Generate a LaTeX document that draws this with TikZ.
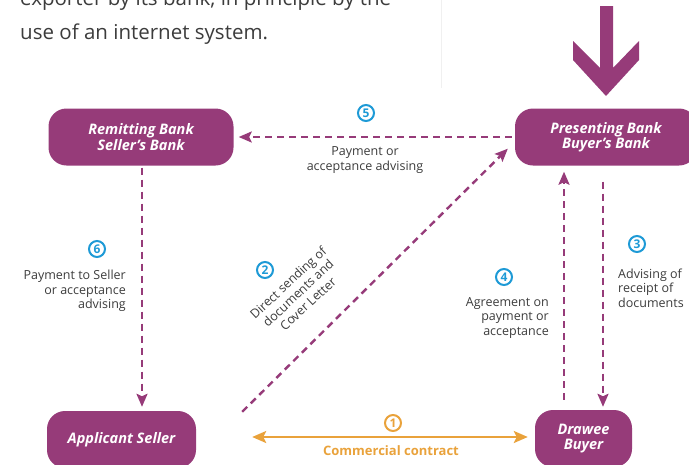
\documentclass[tikz,border=0pt]{standalone}
\usepackage{fontspec}
\setmainfont{Open Sans}
\usetikzlibrary{arrows.meta}
\definecolor{plum}{HTML}{963B79}
\definecolor{numblue}{HTML}{1E9AD6}
\definecolor{amber}{HTML}{E9A23B}
\definecolor{ink}{HTML}{3C3C3C}
\definecolor{rule}{HTML}{F0F0F0}
\begin{document}
\begin{tikzpicture}[x=1pt,y=-1pt,
  party/.style={fill=plum, rounded corners=18pt, text=white,
    font=\fontsize{14.5}{15.5}\selectfont\bfseries\itshape, align=center,
    inner sep=0pt, minimum height=57pt},
  flow/.style={draw=plum, line width=2.4pt, dash pattern=on 7pt off 5pt,
    -{Stealth[length=13pt,width=11pt,inset=2.5pt]}},
  contract/.style={draw=amber, line width=2.4pt,
    {Stealth[length=14pt,width=12pt,inset=3pt]}-{Stealth[length=14pt,width=12pt,inset=3pt]}},
  numtag/.style={circle, draw=numblue, line width=2pt, text=numblue,
    font=\fontsize{12}{12}\selectfont\bfseries, inner sep=0pt, minimum size=16pt},
  caption/.style={text=ink, font=\fontsize{12.5}{14.5}\selectfont, inner sep=0pt},
  bodytext/.style={text=ink, font=\fontsize{20.5}{34}\selectfont, inner sep=0pt, anchor=base west},
]
\useasboundingbox (0,0) rectangle (689,464);

% running text above the chart
\node[bodytext] (line1) at (20,5) {exporter by its bank, in principle by the};
\node[bodytext] (line2) at (20,39) {use of an internet system.};
\draw[rule, line width=1pt] (441,0) -- (441,88);

% big downward arrow
\fill[plum] (600,6) -- (613,6) -- (613,68) -- (639,41) -- (639,60) -- (606,96)
  -- (573,60) -- (573,41) -- (600,68) -- cycle;

% parties
\node[party, minimum width=185pt] (rem) at (141,137) {Remitting Bank\\Seller’s Bank};
\node[party, minimum width=182pt] (pres) at (606,137) {Presenting Bank\\Buyer's Bank};
\node[party, minimum width=149pt] (app) at (121.5,439.5) {Applicant Seller};
\node[party, minimum width=97pt] (dra) at (583.5,438.5) {Drawee\\Buyer};

% 5: payment or acceptance advising
\draw[flow, shorten <=3pt, shorten >=5pt] (pres.west) -- (rem.east);
\node[numtag] (n5) at (366,113) {5};
\node[caption, align=center] (c5) at (365,160) {Payment or\\acceptance advising};

% 6: payment to seller
\draw[flow, shorten <=2pt, shorten >=4pt] ([xshift=1pt]rem.south) -- ([xshift=1pt]rem.south |- app.north);
\node[numtag] (n6) at (97,249) {6};
\node[caption, align=right, anchor=east] (c6) at (126,291) {Payment to Seller\\or acceptance\\advising};

% 2: direct sending of documents
\draw[flow] ([shift={(46,1)}]app.north east) -- ([shift={(-7,-17)}]pres.south west);
\node[numtag] (n2) at (265,270) {2};
\node[caption, align=center, rotate=43] (c2) at (298,293) {Direct sending of\\documents and\\Cover Letter};

% 4: agreement on payment or acceptance
\draw[flow, shorten <=10pt, shorten >=6pt] ([xshift=-19.5pt]dra.north) -- ([xshift=-19.5pt]dra.north |- pres.south);
\node[numtag] (n4) at (504,277) {4};
\node[caption, align=right, anchor=east] (c4) at (549,318) {Agreement on\\payment or\\acceptance};

% 3: advising of receipt
\draw[flow, shorten <=16pt, shorten >=3pt] ([xshift=19.5pt]dra.north |- pres.south) -- ([xshift=19.5pt]dra.north);
\node[numtag] (n3) at (637,244) {3};
\node[caption, align=left, anchor=west] (c3) at (618,288) {Advising of\\receipt of\\documents};

% 1: commercial contract
\draw[contract, shorten <=56pt, shorten >=7pt] ([yshift=2.5pt]app.east) -- ([yshift=2.5pt]app.east -| dra.west);
\node[numtag, draw=amber, text=amber] (n1) at (393,423) {1};
\node[text=amber, font=\fontsize{13}{15}\selectfont\bfseries, inner sep=0pt] (c1) at (391,451) {Commercial contract};
\end{tikzpicture}
\end{document}
